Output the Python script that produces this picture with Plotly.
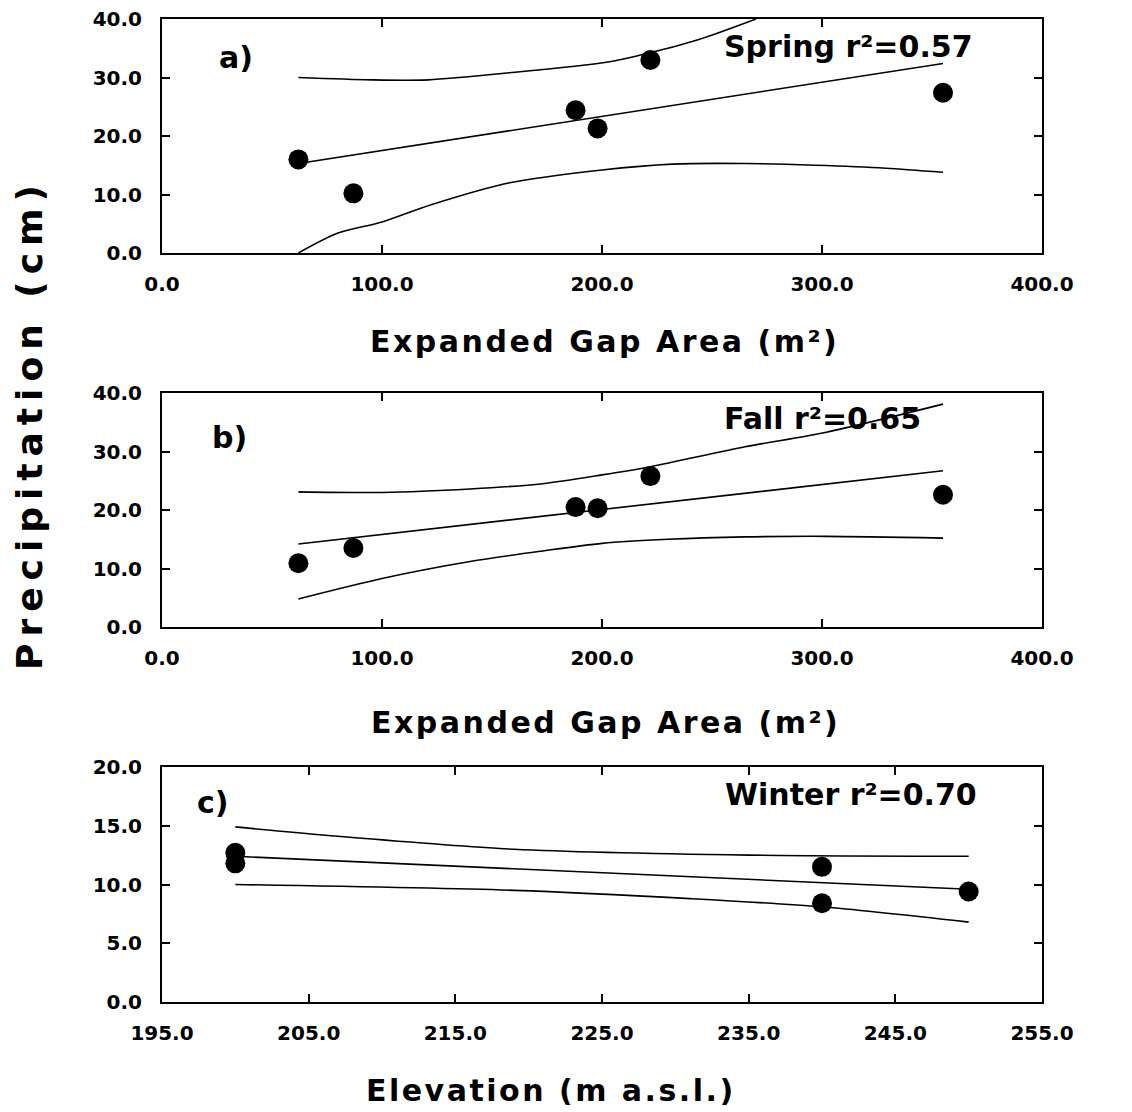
import plotly.graph_objects as go

# ---- data -------------------------------------------------------------
gap_area = [62, 87, 188, 198, 222, 355]          # expanded gap area (m^2)
spring_precip = [16.0, 10.2, 24.4, 21.3, 33.0, 27.4]
fall_precip = [10.9, 13.5, 20.5, 20.3, 25.8, 22.6]

elevation = [200, 200, 240, 240, 250]             # m a.s.l.
winter_precip = [12.7, 11.8, 11.5, 8.4, 9.4]

# regression lines and confidence bands
spring_fit_x = [62, 355]
spring_fit_y = [15.3, 32.4]
spring_upper_x = [62, 95, 121, 158, 202, 217, 244, 270]
spring_upper_y = [30.0, 29.6, 29.6, 30.8, 32.6, 33.8, 36.5, 40.0]
spring_lower_x = [62, 80, 100, 122, 158, 200, 232, 265, 297, 329, 355]
spring_lower_y = [0.0, 3.4, 5.3, 8.2, 12.0, 14.2, 15.2, 15.3, 15.0, 14.5, 13.8]

fall_fit_x = [62, 355]
fall_fit_y = [14.2, 26.7]
fall_upper_x = [62, 100, 140, 173, 200, 222, 265, 302, 355]
fall_upper_y = [23.1, 23.0, 23.6, 24.5, 26.0, 27.4, 30.8, 33.3, 38.1]
fall_lower_x = [62, 100, 140, 173, 200, 230, 265, 302, 355]
fall_lower_y = [4.8, 8.3, 11.2, 13.0, 14.3, 15.0, 15.4, 15.5, 15.2]

winter_fit_x = [200, 250]
winter_fit_y = [12.4, 9.6]
winter_upper_x = [200, 207, 219, 235, 250]
winter_upper_y = [14.9, 14.1, 13.0, 12.5, 12.4]
winter_lower_x = [200, 219, 231, 240, 250]
winter_lower_y = [10.0, 9.5, 8.8, 8.1, 6.8]

panel_labels = ["a)", "b)", "c)"]
season_labels = ["Spring r²=0.57", "Fall r²=0.65", "Winter r²=0.70"]
x_titles = ["Expanded Gap Area (m²)", "Expanded Gap Area (m²)",
            "Elevation (m a.s.l.)"]
y_title = "Precipitation (cm)"

# ---- layout helpers ---------------------------------------------------
W, H = 1132, 1112


def fx(px):
    return px / W


def fy(py):
    return 1 - py / H


FONT = "DejaVu Sans"
x_dom = [fx(162), fx(1042)]
y_doms = [[fy(253), fy(19)], [fy(627), fy(393)], [fy(1002), fy(767)]]

fig = go.Figure()

panels = [
    ("x", "y", gap_area, spring_precip, spring_fit_x, spring_fit_y,
     spring_upper_x, spring_upper_y, spring_lower_x, spring_lower_y),
    ("x2", "y2", gap_area, fall_precip, fall_fit_x, fall_fit_y,
     fall_upper_x, fall_upper_y, fall_lower_x, fall_lower_y),
    ("x3", "y3", elevation, winter_precip, winter_fit_x, winter_fit_y,
     winter_upper_x, winter_upper_y, winter_lower_x, winter_lower_y),
]

line_style = dict(color="black", width=1.6)
for xa, ya, px_, py_, fxs, fys, uxs, uys, lxs, lys in panels:
    for xs, ys in ((uxs, uys), (fxs, fys), (lxs, lys)):
        fig.add_trace(go.Scatter(x=xs, y=ys, mode="lines", xaxis=xa, yaxis=ya,
                                 line=dict(shape="spline", smoothing=0.8, **line_style),
                                 showlegend=False, hoverinfo="skip"))
    fig.add_trace(go.Scatter(x=px_, y=py_, mode="markers", xaxis=xa, yaxis=ya,
                             marker=dict(size=20, color="black"),
                             cliponaxis=False, showlegend=False))

axis_common = dict(
    showline=True, linecolor="black", linewidth=2, mirror="allticks",
    ticks="inside", ticklen=8, tickwidth=1.5, tickcolor="black",
    showgrid=False, zeroline=False, tickformat=".1f",
    tickfont=dict(family=FONT, size=20, color="black", weight="bold"),
    automargin=False, fixedrange=True,
)

x_ranges = [[0, 400], [0, 400], [195, 255]]
x_dticks = [100, 100, 10]
y_ranges = [[0, 40], [0, 40], [0, 20]]
y_dticks = [10, 10, 5]

layout_axes = {}
for i in range(3):
    sfx = "" if i == 0 else str(i + 1)
    layout_axes["xaxis" + sfx] = dict(
        axis_common, domain=x_dom, range=x_ranges[i], dtick=x_dticks[i],
        tick0=x_ranges[i][0], anchor="y" + sfx, ticklabelstandoff=12)
    layout_axes["yaxis" + sfx] = dict(
        axis_common, domain=y_doms[i], range=y_ranges[i], dtick=y_dticks[i],
        tick0=0, anchor="x" + sfx, ticklabelstandoff=14)

annotations = []
label_pos = [(217, 57), (210, 437), (195, 802)]
season_pos = [(722, 47), (722, 418), (723, 794)]
label_font = dict(family=FONT, size=30, color="black")
for i in range(3):
    annotations.append(dict(
        x=fx(label_pos[i][0]), y=fy(label_pos[i][1]), xref="paper", yref="paper",
        text="<b>" + panel_labels[i] + "</b>", showarrow=False,
        xanchor="left", yanchor="middle", font=label_font))
    annotations.append(dict(
        x=fx(season_pos[i][0]), y=fy(season_pos[i][1]), xref="paper", yref="paper",
        text="<b>" + season_labels[i] + "</b>", showarrow=False,
        xanchor="left", yanchor="middle", font=label_font))

title_pos = [(604, 341), (605, 722), (551, 1090)]
for i in range(3):
    annotations.append(dict(
        x=fx(title_pos[i][0]), y=fy(title_pos[i][1]), xref="paper", yref="paper",
        text='<span style="letter-spacing:2.5px"><b>' + x_titles[i] + "</b></span>",
        showarrow=False, xanchor="center", yanchor="middle", font=label_font))

annotations.append(dict(
    x=fx(29), y=fy(424), xref="paper", yref="paper", textangle=-90,
    text='<span style="letter-spacing:7px"><b>' + y_title + "</b></span>",
    showarrow=False, xanchor="center", yanchor="middle",
    font=dict(family=FONT, size=36, color="black")))

fig.update_layout(
    width=W, height=H, margin=dict(l=0, r=0, t=0, b=0),
    paper_bgcolor="white", plot_bgcolor="white",
    annotations=annotations, **layout_axes)

fig.write_html("out.html")
